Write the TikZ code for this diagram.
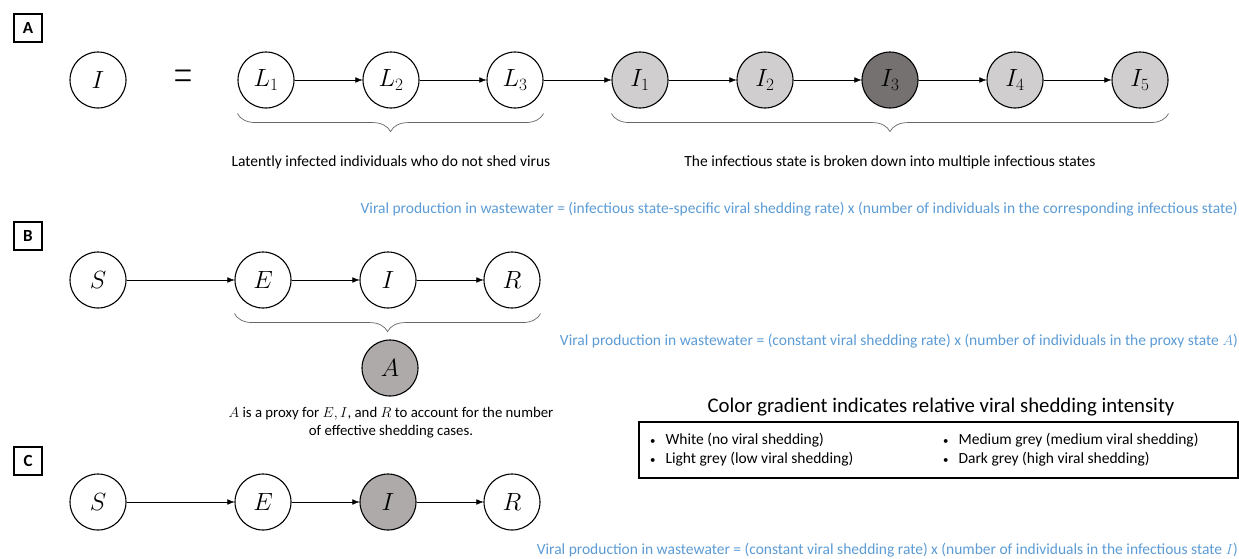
\documentclass[tikz,border=0pt]{standalone}
\usepackage{fontspec}
\setmainfont{Carlito}
\usetikzlibrary{calc,arrows.meta,decorations.pathreplacing}

\definecolor{lowgrey}{HTML}{D0CECE}
\definecolor{midgrey}{HTML}{AEAAAA}
\definecolor{highgrey}{HTML}{767171}
\definecolor{rateblue}{HTML}{5B9BD5}

\begin{document}
\begin{tikzpicture}[x=1pt, y=-1pt, >={Latex[length=7pt,width=5.5pt]},
  state/.style={draw, circle, minimum size=56, inner sep=0, line width=1.1pt, font=\fontsize{23}{27}\selectfont},
  panel/.style={draw, line width=1.3pt, minimum size=28, inner sep=0, font=\fontsize{17}{20}\selectfont\bfseries},
  note/.style={font=\fontsize{15.5}{18.5}\selectfont, inner sep=0},
  rate/.style={note, anchor=east, text=rateblue},
  brace/.style={decorate, decoration={brace, amplitude=18}, draw=black!60, line width=0.7pt}]

\useasboundingbox (0,0) rectangle (1239,558);

\node[name=pa, panel] at (28,28) {A};
\node[name=pb, panel] at (28,236) {B};
\node[name=pc, panel] at (28,461) {C};

% panel A
\node[name=ia, state] at (98,80) {$I$};
\node[name=eq, font=\fontsize{34}{34}\selectfont] at (183,80) {\scalebox{1}[2.2]{$=$}};

\node[name=l1, state] at (266,80) {$L_1$};
\node[name=l2, state] at (391,80) {$L_2$};
\node[name=l3, state] at (515,80) {$L_3$};

\node[name=i1, state, fill=lowgrey] at (640,80) {$I_1$};
\node[name=i2, state, fill=lowgrey] at (765,80) {$I_2$};
\node[name=i3, state, fill=highgrey] at (890,80) {$I_3$};
\node[name=i4, state, fill=lowgrey] at (1015,80) {$I_4$};
\node[name=i5, state, fill=lowgrey] at (1140,80) {$I_5$};

\draw[->] (l1) -- (l2);
\draw[->] (l2) -- (l3);
\draw[->] (l3) -- (i1);
\draw[->] (i1) -- (i2);
\draw[->] (i2) -- (i3);
\draw[->] (i3) -- (i4);
\draw[->] (i4) -- (i5);

\draw[brace] ($(l3.east |- l3.south)+(0,5)$) -- ($(l1.west |- l1.south)+(0,5)$);
\draw[brace] ($(i5.east |- i5.south)+(0,5)$) -- ($(i1.west |- i1.south)+(0,5)$);

\node[name=lat, note] at (391,162) {Latently infected individuals who do not shed virus};
\node[name=inf, note] at (890,162) {The infectious state is broken down into multiple infectious states};

\node[name=va, rate] at (1238,209) {Viral production in wastewater = (infectious state-specific viral shedding rate) x (number of individuals in the corresponding infectious state)};

% panel B
\node[name=sb, state] at (98,280) {$S$};
\node[name=eb, state] at (263,280) {$E$};
\node[name=ib, state] at (388,280) {$I$};
\node[name=rb, state] at (512,280) {$R$};
\node[name=ab, state, fill=midgrey] at (390,368) {$A$};

\draw[->] (sb) -- (eb);
\draw[->] (eb) -- (ib);
\draw[->] (ib) -- (rb);

\draw[brace] ($(rb.east |- rb.south)+(0,5)$) -- ($(eb.west |- eb.south)+(0,5)$);

\node[name=vb, rate] at (1238,341) {Viral production in wastewater = (constant viral shedding rate) x (number of individuals in the proxy state $A$)};

\node[name=prx, note, font=\fontsize{14.8}{18}\selectfont, align=center] at (391,423) {$A$ is a proxy for $E, I$, and $R$ to account for the number\\of effective shedding cases.};

% legend
\node[name=lgt, font=\fontsize{20.8}{24}\selectfont, inner sep=0] at (941,407) {Color gradient indicates relative viral shedding intensity};
\node[name=lgd, draw, line width=1.3pt, minimum width=599, minimum height=56, inner sep=0] at (938.5,450) {};

\node[name=w, note, anchor=west] at (650,440) {\scalebox{0.7}{\textbullet}\hspace{10pt}White (no viral shedding)};
\node[name=lg, note, anchor=west] at (650,459) {\scalebox{0.7}{\textbullet}\hspace{10pt}Light grey (low viral shedding)};
\node[name=mg, note, anchor=west] at (943,440) {\scalebox{0.7}{\textbullet}\hspace{10pt}Medium grey (medium viral shedding)};
\node[name=dg, note, anchor=west] at (943,459) {\scalebox{0.7}{\textbullet}\hspace{10pt}Dark grey (high viral shedding)};

% panel C
\node[name=sc, state] at (98,502) {$S$};
\node[name=ec, state] at (263,502) {$E$};
\node[name=ic, state, fill=midgrey] at (388,502) {$I$};
\node[name=rc, state] at (512,502) {$R$};

\draw[->] (sc) -- (ec);
\draw[->] (ec) -- (ic);
\draw[->] (ic) -- (rc);

\node[name=vc, rate] at (1238,550) {Viral production in wastewater = (constant viral shedding rate) x (number of individuals in the infectious state $I$)};
\end{tikzpicture}
\end{document}
